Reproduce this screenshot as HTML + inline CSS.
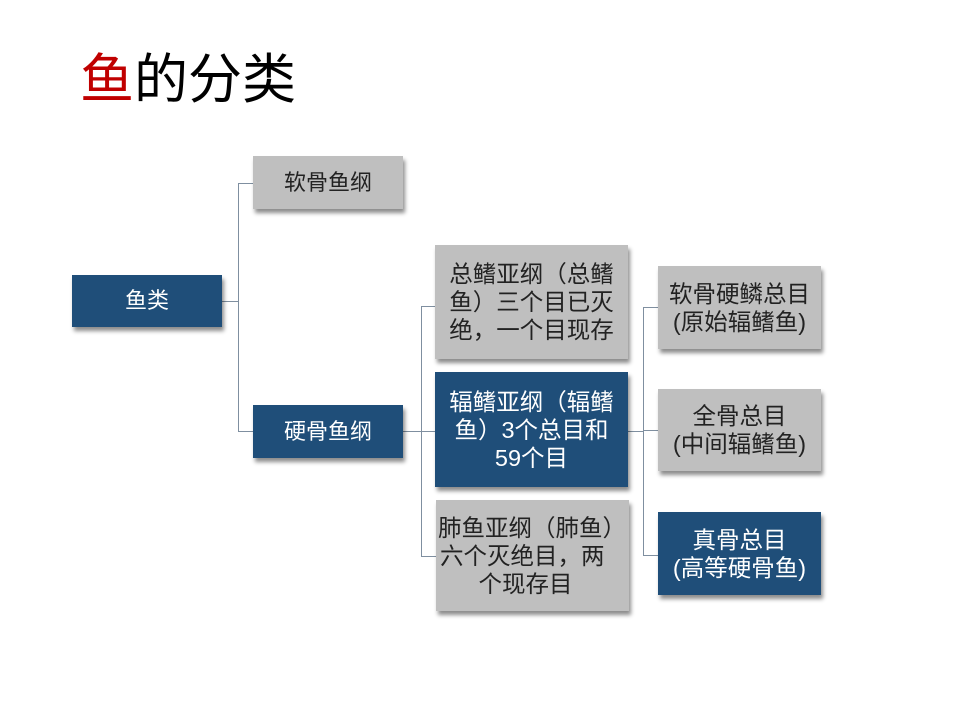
<!DOCTYPE html>
<html><head><meta charset="utf-8"><style>
body{margin:0;width:960px;height:720px;background:#fff;position:relative;overflow:hidden;font-family:"Liberation Sans","Noto Sans CJK SC",sans-serif}
.t{position:absolute;left:80px;top:47px;font-size:54px;line-height:66px;color:#000;white-space:nowrap}
.b{position:absolute;display:flex;align-items:center;justify-content:center;text-align:center;font-size:22px;line-height:28px;box-shadow:2px 4px 4px rgba(0,0,0,.45);box-sizing:border-box;white-space:nowrap}
.m{font-size:23.5px}
.blue{background:#1f4e79;color:#fff}
.gray{background:#bfbfbf;color:#222}
.l{position:absolute;background:#7f8fa0}
</style></head><body>
<div class="t"><span style="color:#c00000">鱼</span>的分类</div>

<div class="l" style="left:222px;top:301px;width:16px;height:1px"></div>
<div class="l" style="left:238px;top:183px;width:1px;height:249px"></div>
<div class="l" style="left:238px;top:183px;width:15px;height:1px"></div>
<div class="l" style="left:238px;top:431px;width:15px;height:1px"></div>

<div class="l" style="left:403px;top:431px;width:18px;height:1px"></div>
<div class="l" style="left:421px;top:306px;width:1px;height:250px"></div>
<div class="l" style="left:421px;top:306px;width:14px;height:1px"></div>
<div class="l" style="left:421px;top:431px;width:14px;height:1px"></div>
<div class="l" style="left:421px;top:556px;width:15px;height:1px"></div>

<div class="l" style="left:628px;top:431px;width:15px;height:1px"></div>
<div class="l" style="left:643px;top:307px;width:1px;height:249px"></div>
<div class="l" style="left:643px;top:307px;width:15px;height:1px"></div>
<div class="l" style="left:643px;top:430px;width:15px;height:1px"></div>
<div class="l" style="left:643px;top:555px;width:15px;height:1px"></div>

<div class="b blue" style="left:72px;top:275px;width:150px;height:52px">鱼类</div>
<div class="b gray" style="left:253px;top:156px;width:150px;height:53px">软骨鱼纲</div>
<div class="b blue" style="left:253px;top:405px;width:150px;height:53px">硬骨鱼纲</div>

<div class="b gray m" style="left:435px;top:245px;width:193px;height:114px">总鳍亚纲（总鳍<br>鱼）三个目已灭<br>绝，一个目现存</div>
<div class="b blue m" style="left:435px;top:372px;width:193px;height:115px">辐鳍亚纲（辐鳍<br>鱼）3个总目和<br>59个目</div>
<div class="b gray m" style="left:436px;top:500px;width:193px;height:111px;justify-content:flex-start;padding-left:2px"><div>肺鱼亚纲（肺鱼）<br>六个灭绝目，两&nbsp;&nbsp;&nbsp;<br>个现存目&nbsp;&nbsp;</div></div>

<div class="b gray m" style="left:658px;top:266px;width:163px;height:83px">软骨硬鳞总目<br>(原始辐鳍鱼)</div>
<div class="b gray m" style="left:658px;top:389px;width:163px;height:82px">全骨总目<br>(中间辐鳍鱼)</div>
<div class="b blue m" style="left:658px;top:512px;width:163px;height:83px">真骨总目<br>(高等硬骨鱼)</div>
</body></html>
